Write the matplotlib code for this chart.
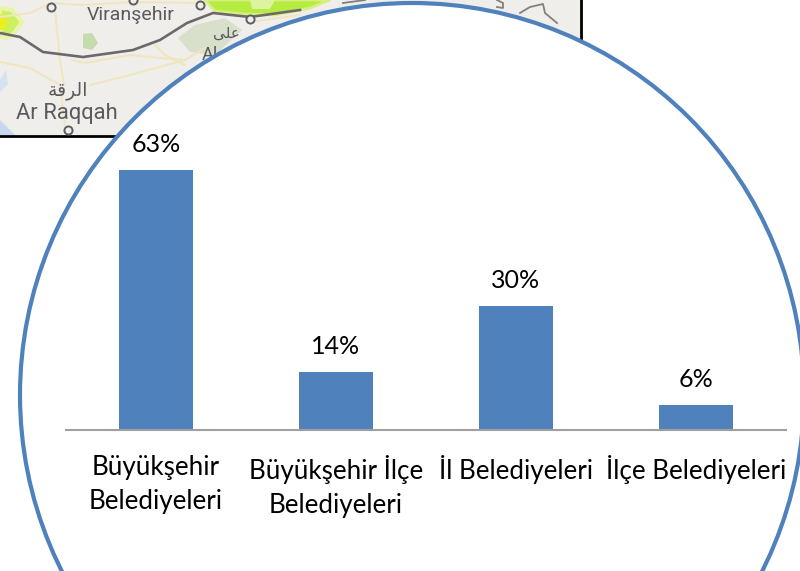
import matplotlib
matplotlib.use('Agg')
import matplotlib.pyplot as plt
from matplotlib.patches import Circle, Polygon, Rectangle

categories = ['Büyükşehir\nBelediyeleri', 'Büyükşehir İlçe\nBelediyeleri', 'İl Belediyeleri', 'İlçe Belediyeleri']
values = [63, 14, 30, 6]

# map background, everything below is in image pixels
border_road = [(0, 33), (20, 37), (43, 52), (83, 57), (133, 50), (160, 40), (187, 23), (213, 13), (250, 17), (300, 10)]
yellow_roads = [
    [(0, 17), (30, 13), (51, 3), (80, 5), (133, 2), (200, 3)],
    [(72, 60), (85, 63), (130, 55), (160, 58), (185, 60)],
    [(90, 85), (130, 75), (185, 60), (205, 48)],
    [(0, 62), (30, 68), (60, 85), (65, 125)],
    [(55, 10), (60, 60), (64, 85)],
    [(155, 45), (165, 55), (185, 65)],
    [(250, 22), (300, 15)],
]
towns = [(51, 7), (133, 0), (200, 5), (250, 19), (68, 130)]
green_left = [(0, 8), (12, 10), (22, 22), (14, 33), (6, 38), (0, 36)]
green_core = [(0, 14), (6, 16), (8, 24), (4, 30), (0, 30)]
green_top = [(205, 0), (330, 0), (310, 8), (275, 15), (245, 14), (215, 11)]
green_pale = [(250, 0), (275, 0), (270, 9), (252, 9)]
park_small = [(83, 34), (92, 33), (98, 43), (92, 50), (83, 48)]
park_large = [(178, 38), (195, 25), (225, 18), (242, 30), (215, 55), (190, 52)]
water_low = [(0, 120), (15, 135), (0, 135)]
water_mid = [(0, 80), (6, 70), (8, 84), (0, 92)]
borders = [
    [(343, 3), (365, 0)],
    [(497, 0), (503, 3), (503, 8), (497, 7)],
    [(520, 13), (530, 7), (543, 4), (545, 13), (557, 23)],
]

circle_blue = '#4f81bd'
map_text = '#5a5a5e'

plt.rcParams['font.family'] = ['Lato', 'DejaVu Sans']

fig = plt.figure(figsize=(8, 5.71), dpi=100)

bg = fig.add_axes([0, 0, 1, 1])
bg.set_xlim(0, 800)
bg.set_ylim(571, 0)
bg.axis('off')

bg.add_patch(Rectangle((0, 0), 580, 135, fc='#f0eeea', ec='none'))
bg.add_patch(Polygon(water_low, fc='#c5d8ee', ec='none'))
bg.add_patch(Polygon(water_mid, fc='#d5e2f2', ec='none'))
bg.add_patch(Polygon(park_small, fc='#c4dcae', ec='none'))
bg.add_patch(Polygon(park_large, fc='#d8e0cc', ec='none'))
bg.add_patch(Polygon(green_left, fc='#c8f060', ec='#e8f4a8', lw=3))
bg.add_patch(Polygon(green_core, fc='#e8f020', ec='none'))
bg.add_patch(Polygon(green_top, fc='#b4ec40', ec='#d8ee80', lw=2))
bg.add_patch(Polygon(green_pale, fc='#dcf4a0', ec='none'))
for road in yellow_roads:
    bg.plot(*zip(*road), color='#efe6c0', lw=1.5, solid_capstyle='round')
for line in borders:
    bg.plot(*zip(*line), color='#808080', lw=1.3)
bg.plot(*zip(*border_road), color='#6e686c', lw=1.9)
bg.scatter(*zip(*towns), s=34, fc='#f0eeea', ec='#5e5e5e', lw=1.4, zorder=3)

bg.text(131, 15, 'Viranşehir', color=map_text, fontsize=14, family=['Roboto', 'DejaVu Sans'], ha='center', va='center')
bg.text(67, 113, 'Ar Raqqah', color=map_text, fontsize=15.8, family=['Roboto', 'DejaVu Sans'], ha='center', va='center')
bg.text(68, 90, '\ufe94\ufed7\ufeae\ufedf\ufe8d', color=map_text, fontsize=13.5, family='DejaVu Sans', ha='center', va='center')
bg.text(210, 55, 'Al', color=map_text, fontsize=13, family=['Roboto', 'DejaVu Sans'], ha='center', va='center')
bg.text(226, 33, '\ufef0\ufee0\ufecb', color=map_text, fontsize=11, family='DejaVu Sans', ha='center', va='center')

# map frame
bg.plot([0, 130], [135.5, 135.5], color='black', lw=2)
bg.plot([580.5, 580.5], [0, 50], color='black', lw=2)

bg.add_patch(Circle((412, 395), 392, fc='white', ec=circle_blue, lw=3, zorder=5))

# bar chart sits on top of the circle, baseline at y=430
ax = fig.add_axes([66 / 800, (571 - 430) / 571, 720 / 800, 289 / 571])
ax.patch.set_alpha(0)
ax.set_xlim(-0.5, 3.5)
ax.set_ylim(0, 70)
bars = ax.bar(range(len(values)), values, width=0.41, color=circle_blue)
for x, v in enumerate(values):
    ax.annotate(f'{v}%', (x, v), xytext=(0, 18.5), textcoords='offset points', ha='center', va='center',
                fontsize=18, color='black')

ax.set_xticks(range(len(categories)))
ax.set_xticklabels(categories, fontsize=18.7, color='black', linespacing=1.45)
ax.tick_params(axis='x', length=0, pad=18)
ax.set_yticks([])
for side in ['top', 'left', 'right']:
    ax.spines[side].set_visible(False)
ax.spines['bottom'].set_color('#a0a0a0')
ax.spines['bottom'].set_linewidth(1.5)

fig.savefig('out.png', dpi=100)
